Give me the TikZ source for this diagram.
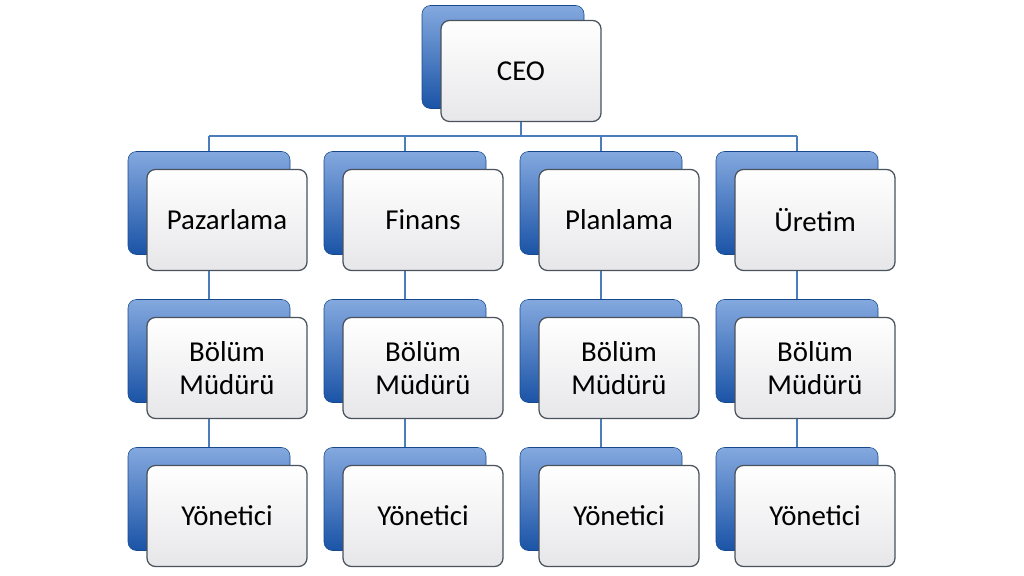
\documentclass[tikz,border=0pt]{standalone}
\usepackage{fontspec}
\setmainfont{Carlito}
\usetikzlibrary{positioning}
\definecolor{backblue}{HTML}{1F62C4}
\definecolor{backedge}{HTML}{174A8C}
\definecolor{frontedge}{HTML}{4A525C}
\definecolor{linkblue}{HTML}{4A7EBB}
\newlength{\pxu}
\setlength{\pxu}{0.025cm}
\tikzset{
  backbox/.style={draw=backedge,rounded corners=6pt,top color=backblue!55!white,bottom color=backblue!85!black,
    minimum width=162\pxu,minimum height=103\pxu,inner sep=0pt},
  frontbox/.style={draw=frontedge,line width=0.9pt,rounded corners=6pt,top color=white,bottom color=blue!6!gray!18,
    minimum width=160\pxu,minimum height=101\pxu,inner sep=0pt,align=center,font=\fontsize{20.5}{24}\selectfont},
  link/.style={draw=linkblue,line width=1.3pt}
}
\begin{document}
\begin{tikzpicture}[x=0.025cm,y=-0.025cm]
  \useasboundingbox (0,0) rectangle (1024,576);
  % CEO
  \coordinate (busl) at (209,136);
  \coordinate (busr) at (797,136);
  \node[backbox] (ceob) at (503,57) {};
  \node[frontbox] (ceo) at (521,71) {CEO};
  \draw[link] (ceo.south) -- (ceo.south |- busl);
  \draw[link] (busl) -- (busr);
  % columns
  \foreach \name/\cx/\dept in {paz/209/Pazarlama,fin/405/Finans,pla/601/Planlama,ure/797/Üretim}{
    \draw[link] (\cx,136) -- (\cx,470);
    \node[backbox] (\name b1) at (\cx,203) {};
    \node[frontbox] (\name 1) at (\cx+18,220) {\dept};
    \node[backbox] (\name b2) at (\cx,351) {};
    \node[frontbox] (\name 2) at (\cx+18,368) {Bölüm\\Müdürü};
    \node[backbox] (\name b3) at (\cx,499) {};
    \node[frontbox] (\name 3) at (\cx+18,516) {Yönetici};
  }
\end{tikzpicture}
\end{document}
